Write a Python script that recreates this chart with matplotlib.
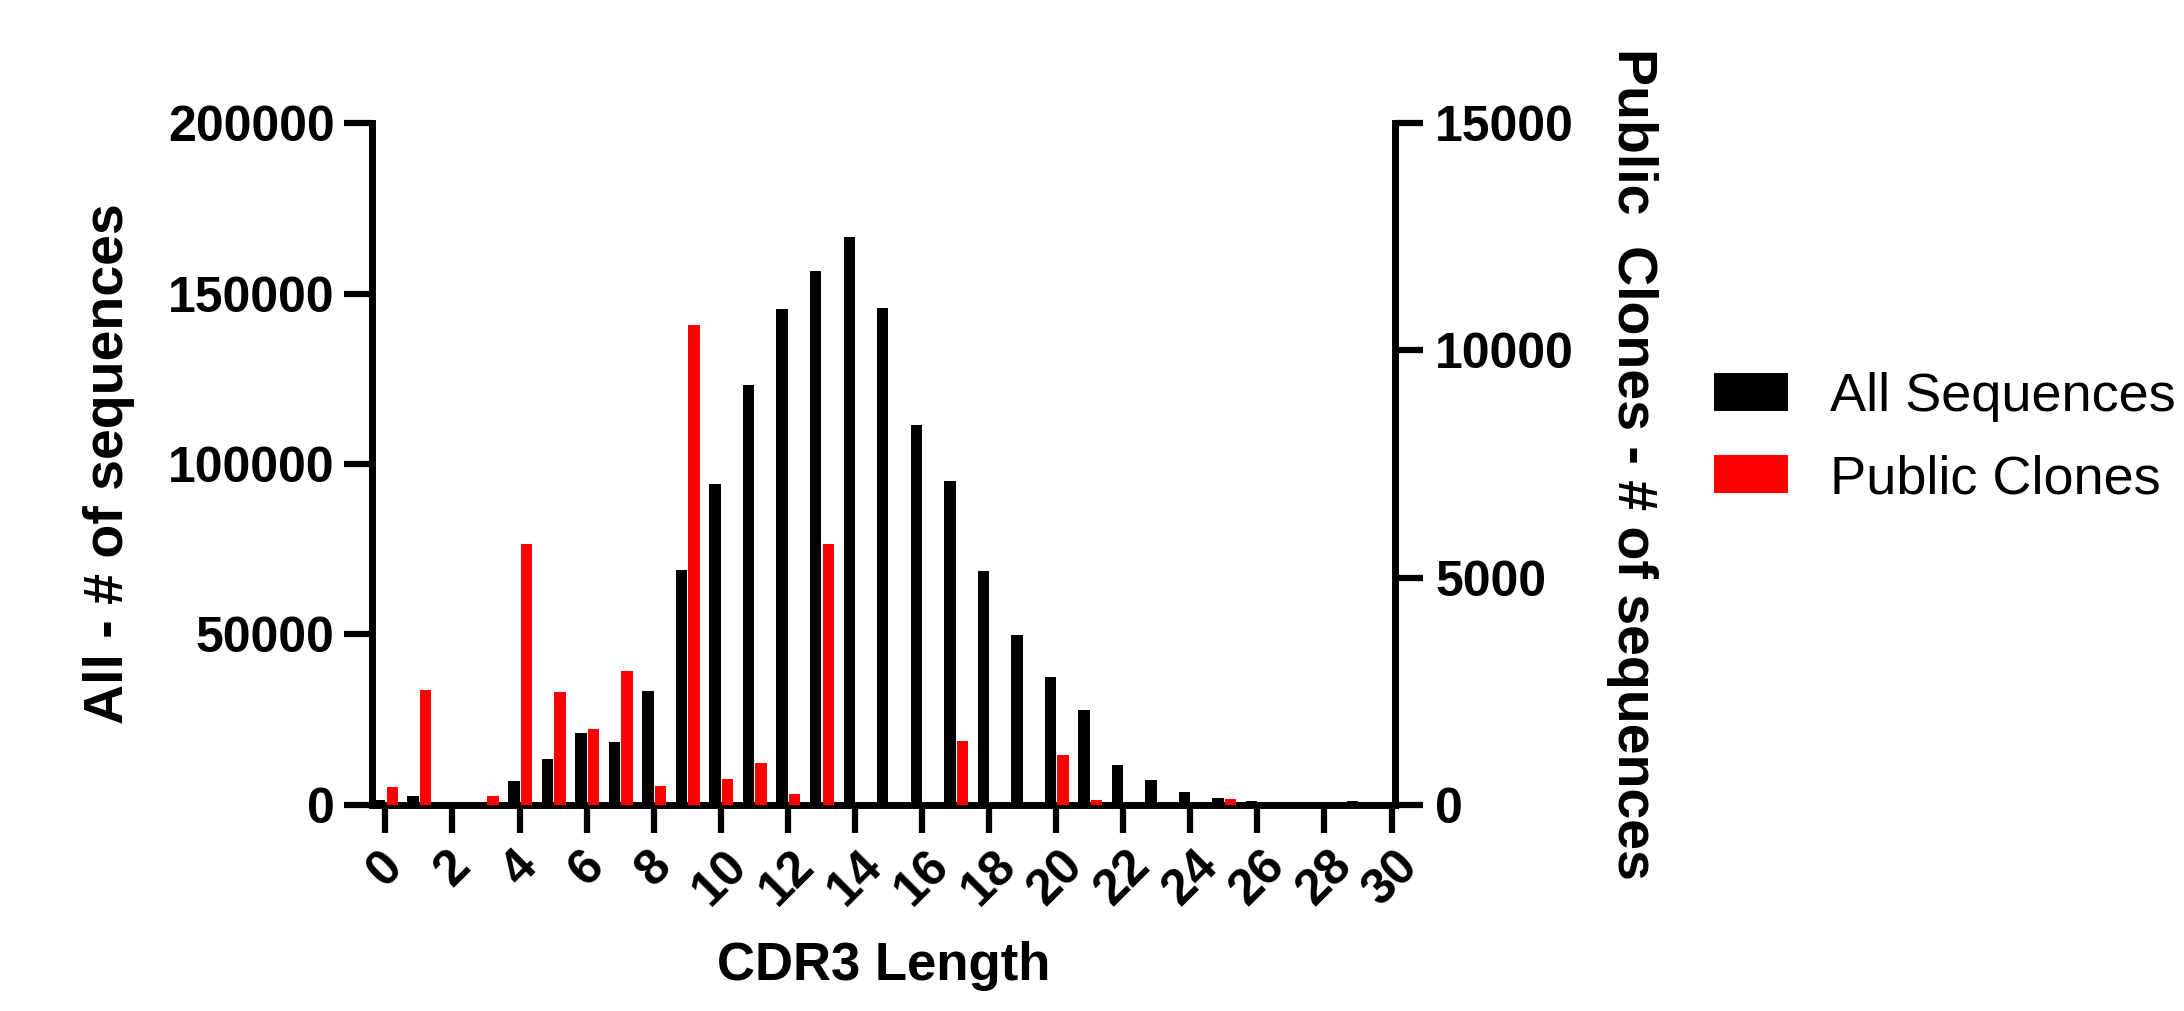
import matplotlib
matplotlib.use("Agg")
import matplotlib.pyplot as plt
import numpy as np

plt.rcParams['font.family'] = ['Liberation Sans', 'DejaVu Sans']

# CDR3 length distribution
lengths = list(range(0, 31))
all_sequences = [1500, 2700, 0, 0, 7000, 13400, 21200, 18500, 33400, 68900,
                 94000, 123200, 145500, 156600, 166700, 145800, 111400, 94900, 68600, 49800,
                 37500, 27800, 11700, 7300, 3900, 2050, 1300, 0, 0, 1100, 0]
public_clones = [400, 2530, 0, 200, 5730, 2480, 1660, 2940, 420, 10550,
                 560, 920, 240, 5740, 0, 0, 0, 1410, 0, 0,
                 1100, 100, 0, 0, 0, 125, 0, 0, 0, 0, 0]

left_ticks = [0, 50000, 100000, 150000, 200000]
right_ticks = [0, 5000, 10000, 15000]
x_ticks = list(range(0, 31, 2))

x = np.array(lengths)

fig = plt.figure(figsize=(21.84, 10.11), dpi=100)
ax = fig.add_axes([0.1703, 0.2038, 0.4684, 0.6745])
ax2 = ax.twinx()

lw = 5
b1 = ax.bar(x - 0.17, all_sequences, width=0.34, color='black', label='All Sequences')
b2 = ax2.bar(x + 0.205, public_clones, width=0.34, color='#FF0000', label='Public Clones')

ax.set_xlim(-0.4, 30.1)
ax.set_ylim(0, 200000)
ax2.set_ylim(0, 15000)

ax.set_xticks(x_ticks)
ax.set_xticklabels([str(t) for t in x_ticks], rotation=45, fontsize=36, fontweight='bold')
ax.set_yticks(left_ticks)
ax.set_yticklabels([str(t) for t in left_ticks], fontsize=36, fontweight='bold')
ax2.set_yticks(right_ticks)
ax2.set_yticklabels([str(t) for t in right_ticks], fontsize=36, fontweight='bold')

for s in ['top', 'right']:
    ax.spines[s].set_visible(False)
for s in ['top', 'left', 'bottom']:
    ax2.spines[s].set_visible(False)
for sp in [ax.spines['left'], ax.spines['bottom'], ax2.spines['right']]:
    sp.set_linewidth(lw)
    sp.set_capstyle('projecting')

ax.tick_params(axis='both', direction='out', length=20, width=4.5, pad=7)
ax.tick_params(axis='x', pad=7)
ax2.tick_params(axis='y', direction='out', length=20, width=4.5, pad=9)

ax.set_xlabel('CDR3 Length', fontsize=38, fontweight='bold')
ax.xaxis.set_label_coords(0.5005, -0.2)
ax.set_ylabel('All - # of sequences', fontsize=40, fontweight='bold')
ax.yaxis.set_label_coords(-0.232, 0.5)
ax2.set_ylabel('Public  Clones - # of sequences', fontsize=40, fontweight='bold',
               rotation=270, va='bottom')
ax2.yaxis.set_label_coords(1.206, 0.5)

ax.legend(handles=[b1, b2], loc='center left', bbox_to_anchor=(0.7848, 0.567),
          bbox_transform=fig.transFigure, frameon=False, fontsize=39,
          handlelength=1.37, handleheight=0.7, handletextpad=0.78,
          labelspacing=0.6, borderpad=0, borderaxespad=0)

fig.savefig('out.png', dpi=100)
